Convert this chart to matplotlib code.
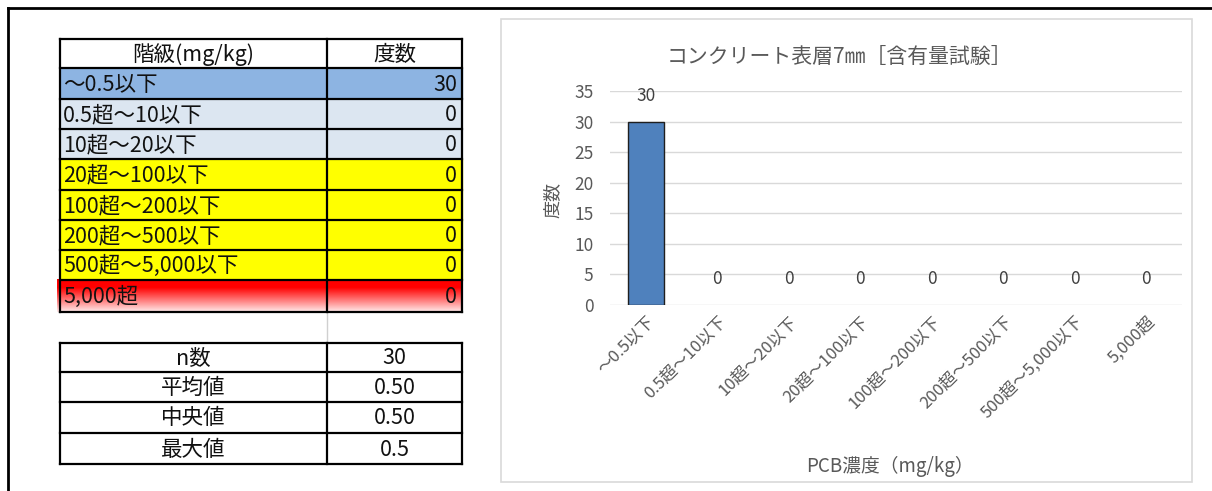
import matplotlib

matplotlib.use("Agg")
import matplotlib.pyplot as plt
import numpy as np
from matplotlib.patches import Rectangle

plt.rcParams["font.family"] = ["Noto Sans CJK JP", "DejaVu Sans"]

# Data
categories = ["～0.5以下", "0.5超～10以下", "10超～20以下", "20超～100以下",
              "100超～200以下", "200超～500以下", "500超～5,000以下", "5,000超"]
counts = [30, 0, 0, 0, 0, 0, 0, 0]
stat_names = ["n数", "平均値", "中央値", "最大値"]
stat_values = ["30", "0.50", "0.50", "0.5"]
table_header = ["階級(mg/kg)", "度数"]
chart_title = "コンクリート表層7㎜［含有量試験］"
x_title = "PCB濃度（mg/kg）"
y_title = "度数"
y_ticks = [0, 5, 10, 15, 20, 25, 30, 35]

row_colors = ["#8DB4E2", "#DCE6F1", "#DCE6F1", "#FFFF00", "#FFFF00",
              "#FFFF00", "#FFFF00", None]

W, H = 1212, 491
fig = plt.figure(figsize=(W / 100, H / 100), dpi=100)
fig.patch.set_facecolor("white")

# overlay axes in pixel coords
ov = fig.add_axes([0, 0, 1, 1])
ov.set_xlim(0, W)
ov.set_ylim(H, 0)
ov.axis("off")

# outer frame
ov.plot([8, 8], [H, 7.5], color="black", lw=2)
ov.plot([8, W], [7.5, 7.5], color="black", lw=2)

# spreadsheet gridline between tables
ov.plot([327, 327], [312, 343], color="#D0D0D0", lw=1)

# frequency table
x0, xm, x1 = 60, 327, 462
row_edges = [39, 68, 99, 129, 159, 190, 220, 250, 280, 312]
fs = 15.5
txt = "#111111"
for i in range(len(categories)):
    top, bot = row_edges[i + 1], row_edges[i + 2]
    c = row_colors[i]
    if c is None:
        grad = np.linspace(0, 1, 64).reshape(-1, 1)
        r = np.ones_like(grad)
        gb = np.clip((grad - 0.25) / 0.75, 0, 1) * 0.92
        img = np.dstack([r, gb, gb])
        ov.imshow(img, extent=[57, x1, bot, top - 1], aspect="auto", zorder=1)
    else:
        ov.add_patch(Rectangle((x0, top), x1 - x0, bot - top, color=c, zorder=1))
    ov.text(x0 + 3, (top + bot) / 2 + 1, categories[i], ha="left", va="center",
            fontsize=fs, color=txt, zorder=3)
    ov.text(x1 - 5, (top + bot) / 2 + 1, str(counts[i]), ha="right", va="center",
            fontsize=fs, color=txt, zorder=3)
ov.text((x0 + xm) / 2, (row_edges[0] + row_edges[1]) / 2 + 1, table_header[0],
        ha="center", va="center", fontsize=fs, color=txt, zorder=3)
ov.text((xm + x1) / 2, (row_edges[0] + row_edges[1]) / 2 + 1, table_header[1],
        ha="center", va="center", fontsize=fs, color=txt, zorder=3)
for y in row_edges:
    ov.plot([x0, x1], [y, y], color="black", lw=1.6, zorder=4)
for xx in (x0, xm, x1):
    ov.plot([xx, xx], [row_edges[0], row_edges[-1]], color="black", lw=1.6, zorder=4)

# stats table
stat_edges = [343, 372, 402, 433, 464]
for i in range(len(stat_names)):
    yc = (stat_edges[i] + stat_edges[i + 1]) / 2 + 1
    ov.text((x0 + xm) / 2, yc, stat_names[i], ha="center", va="center",
            fontsize=fs, color=txt)
    ov.text((xm + x1) / 2, yc, stat_values[i], ha="center", va="center",
            fontsize=fs, color=txt)
for y in stat_edges:
    ov.plot([x0, x1], [y, y], color="black", lw=1.6)
for xx in (x0, xm, x1):
    ov.plot([xx, xx], [stat_edges[0], stat_edges[-1]], color="black", lw=1.6)

# chart border
ov.add_patch(Rectangle((501, 19), 1192 - 501, 482 - 19, fill=False,
                       edgecolor="#D9D9D9", lw=1.2))

# chart axes: x from 610 to 1182 px, y 0 at 305, 35 at 91
ax_l, ax_r, ax_t, ax_b = 610, 1182, 91, 305
ax = fig.add_axes([ax_l / W, 1 - ax_b / H, (ax_r - ax_l) / W, (ax_b - ax_t) / H])
ax.set_facecolor("none")
x = np.arange(len(categories))
edge_w = [1.0 if v > 0 else 0 for v in counts]
ax.bar(x, counts, width=0.5, color="#4F81BD", edgecolor="#1F1F1F",
       linewidth=edge_w, zorder=3)
ax.set_xlim(-0.5, len(categories) - 0.5)
ax.set_ylim(0, 35)
ax.set_yticks(y_ticks)
ax.yaxis.grid(True, color="#D9D9D9", lw=1)
ax.set_axisbelow(True)
for s in ax.spines.values():
    s.set_visible(False)
ax.tick_params(axis="both", length=0, colors="#595959", labelsize=12.5)
ax.tick_params(axis="y", pad=12)
ax.set_xticks(x)
ax.set_xticklabels(categories, rotation=45, ha="right", rotation_mode="anchor",
                   fontsize=12, color="#595959")
ax.tick_params(axis="x", pad=6)
for xi, v in zip(x, counts):
    ax.annotate(str(v), (xi, v), xytext=(0, 12), textcoords="offset points",
                ha="center", va="bottom", fontsize=12.5, color="#404040")

fig.text(840 / W, 1 - 57 / H, chart_title, ha="center", va="center",
         fontsize=15, color="#595959")
fig.text(890 / W, 1 - 466 / H, x_title, ha="center", va="center",
         fontsize=13.5, color="#595959")
fig.text(553 / W, 1 - 200 / H, y_title, ha="center", va="center", rotation=90,
         fontsize=13, color="#595959")

fig.savefig("out.png", dpi=100, facecolor="white")
